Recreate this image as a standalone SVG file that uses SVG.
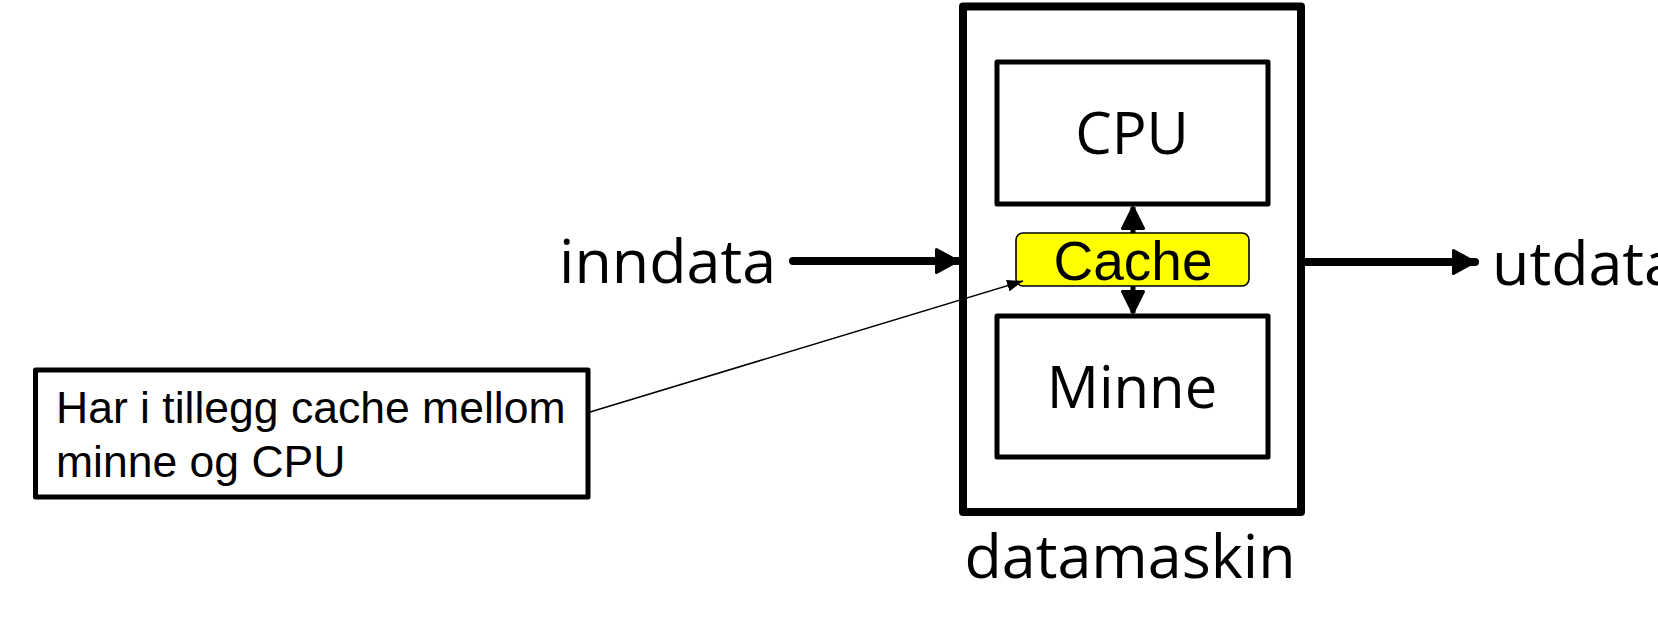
<svg xmlns="http://www.w3.org/2000/svg" width="1658" height="617" viewBox="0 0 1658 617">
<defs>
<style>
.big{font-family:"Open Sans","Liberation Sans",sans-serif;font-size:58px;font-weight:500;fill:#000}
.lbl{font-size:61px}
.arial{font-family:"Liberation Sans",Arial,sans-serif;fill:#000}
.box{fill:#fff;stroke:#000;stroke-linejoin:round}
.thick{stroke:#000;stroke-width:8;fill:none;stroke-linecap:round}
.mid{stroke:#000;stroke-width:5;fill:none}
.thin{stroke:#000;stroke-width:1.6;fill:none}
</style>
<marker id="ah" markerUnits="userSpaceOnUse" viewBox="0 0 24 26" refX="23" refY="13" markerWidth="24" markerHeight="26" orient="auto">
<path d="M1.5,1.5 L22.5,13 L1.5,24.5 Z" fill="#000" stroke="#000" stroke-width="3" stroke-linejoin="round"/>
</marker>
<marker id="ahm" markerUnits="userSpaceOnUse" viewBox="0 0 24 24" refX="23" refY="12" markerWidth="24" markerHeight="24" orient="auto">
<path d="M1.5,1.5 L22.5,12 L1.5,22.5 Z" fill="#000" stroke="#000" stroke-width="3" stroke-linejoin="round"/>
</marker>
<marker id="ahs" markerUnits="userSpaceOnUse" viewBox="0 0 16 12" refX="16" refY="6" markerWidth="16" markerHeight="12" orient="auto">
<path d="M0,0 L16,6 L0,12 Z" fill="#000"/>
</marker>
</defs>
<g id="datamaskin">
<rect class="box" x="963" y="6.5" width="338" height="505.5" stroke-width="8"/>
<text class="big lbl" x="1130" y="578" text-anchor="middle">datamaskin</text>
</g>
<g id="cpu">
<rect class="box" x="997" y="62" width="271" height="142" stroke-width="5"/>
<text class="big" x="1132" y="154" text-anchor="middle">CPU</text>
</g>
<g id="minne">
<rect class="box" x="997" y="316" width="271" height="141" stroke-width="5"/>
<text class="big" x="1132" y="408" text-anchor="middle">Minne</text>
</g>
<g id="cache">
<rect x="1016" y="233" width="233" height="53" rx="7" ry="7" fill="#ffff00" stroke="#000" stroke-width="1.6"/>
<text class="arial" x="1133" y="280" font-size="55" text-anchor="middle">Cache</text>
</g>
<g id="inndata">
<text class="big lbl" x="559" y="283">inndata</text>
</g>
<g id="utdata">
<text class="big lbl" x="1492" y="285">utdata</text>
</g>
<g id="note">
<rect class="box" x="35.5" y="370" width="552.5" height="127" stroke-width="5"/>
<text class="arial" x="56" y="423" font-size="44.5">Har i tillegg cache mellom</text>
<text class="arial" x="56" y="477" font-size="44.5">minne og CPU</text>
</g>
<g id="connectors">
<line class="thick" x1="793" y1="261" x2="958" y2="261" marker-end="url(#ah)"/>
<line class="thick" x1="1305" y1="262" x2="1475" y2="262" marker-end="url(#ah)"/>
<line class="mid" x1="1133" y1="233" x2="1133" y2="207" stroke-linecap="butt" marker-end="url(#ahm)"/>
<line class="mid" x1="1133" y1="286" x2="1133" y2="313" stroke-linecap="butt" marker-end="url(#ahm)"/>
<line class="thin" x1="590" y1="412" x2="1023" y2="281" marker-end="url(#ahs)"/>
</g>
</svg>
